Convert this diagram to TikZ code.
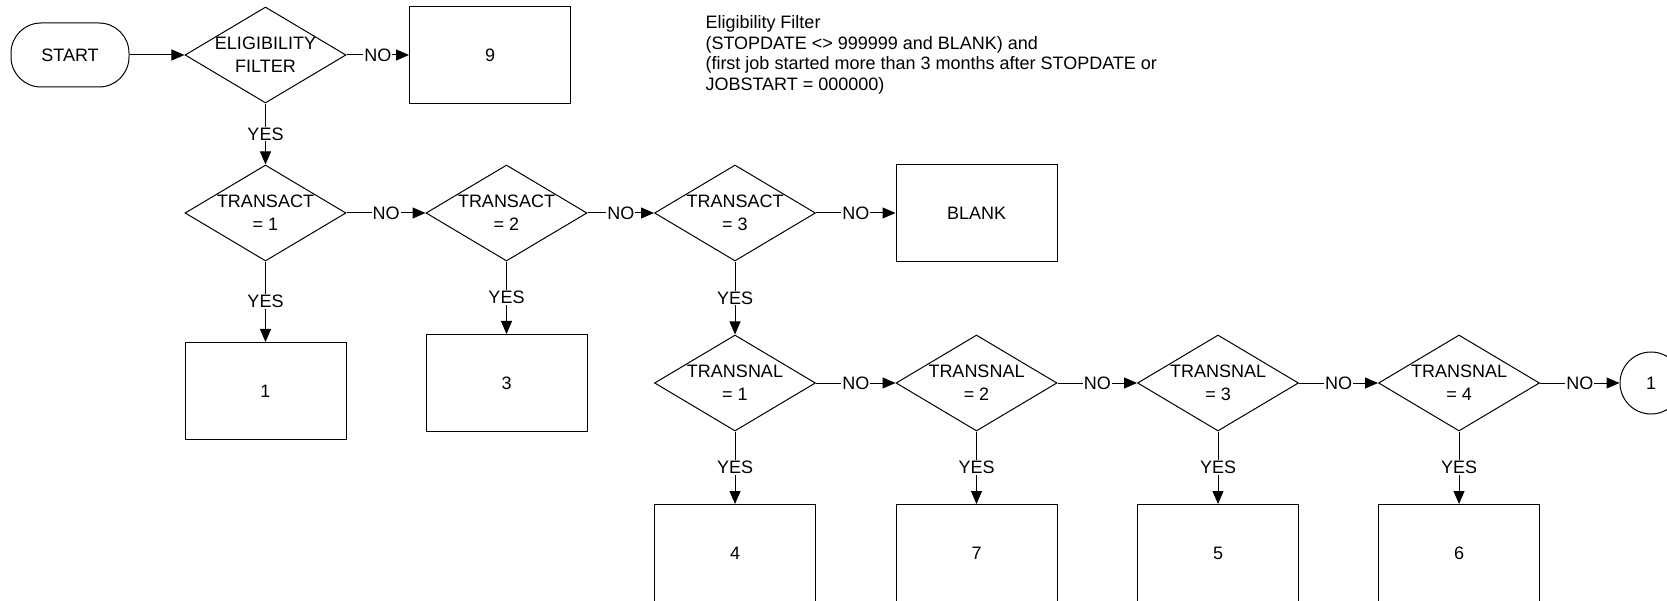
\documentclass[tikz,border=0pt]{standalone}
\usepackage{fontspec}
\setmainfont{Liberation Sans}
\usetikzlibrary{arrows.meta,shapes.geometric}
\tikzset{
  >={Triangle[length=13pt,width=11pt]},
  term/.style={rectangle,draw,rounded corners=30pt,minimum width=118pt,minimum height=64pt},
  dec/.style={diamond,draw,minimum width=161pt,minimum height=96pt,inner sep=0pt},
  dtxt/.style={align=center,inner sep=0pt},
  box/.style={rectangle,draw,minimum width=161pt,minimum height=97pt},
  conn/.style={circle,draw,minimum size=62pt,inner sep=0pt},
  note/.style={anchor=west,align=left,inner sep=0pt,font=\fontsize{18}{20.5}\selectfont},
  wt/.style={midway,fill=white,inner sep=1pt},
  every picture/.style={line width=1pt},
}
\begin{document}
\begin{tikzpicture}[x=1pt,y=-1pt,font=\fontsize{18}{23}\selectfont]
\useasboundingbox (0,0) rectangle (1667,601);
\clip (0,0) rectangle (1667,601);
\node[term] (st) at (70,55){START};
\node[dec,label={[dtxt]center:{ELIGIBILITY\\FILTER}}] (el) at (265.5,55){};
\node[box] (b9) at (490,55){9};
\node[note] (nt) at (705,55){Eligibility Filter\\(STOPDATE <> 999999 and BLANK) and\\(first job started more than 3 months after STOPDATE or\\JOBSTART = 000000)};
% transact row
\node[dec,label={[dtxt]center:{TRANSACT\\= 1}}] (t1) at (265.5,213){};
\node[dec,label={[dtxt]center:{TRANSACT\\= 2}}] (t2) at (506.5,213){};
\node[dec,label={[dtxt]center:{TRANSACT\\= 3}}] (t3) at (735,213){};
\node[box] (bl) at (976.5,213){BLANK};
\node[box] (b1) at (265.5,391){1}; \node[box] (b3) at (506.5,383){3};
% transnal row
\node[dec,label={[dtxt]center:{TRANSNAL\\= 1}}] (n1) at (735,383){};
\node[dec,label={[dtxt]center:{TRANSNAL\\= 2}}] (n2) at (976.5,383){};
\node[dec,label={[dtxt]center:{TRANSNAL\\= 3}}] (n3) at (1218,383){};
\node[dec,label={[dtxt]center:{TRANSNAL\\= 4}}] (n4) at (1459,383){};
\node[conn] (c1) at (1651,383){1};
\node[box] (b4) at (735,553){4}; \node[box] (b7) at (976.5,553){7};
\node[box] (b5) at (1218,553){5}; \node[box] (b6) at (1459,553){6};
% connectors
\draw[->] (st)--(el); \draw[->] (el)--node[wt]{NO}(b9); \draw[->] (el)--node[wt]{YES}(t1);
\draw[->] (t1)--node[wt]{NO}(t2); \draw[->] (t2)--node[wt]{NO}(t3); \draw[->] (t3)--node[wt]{NO}(bl);
\draw[->] (t1)--node[wt]{YES}(b1); \draw[->] (t2)--node[wt]{YES}(b3); \draw[->] (t3)--node[wt]{YES}(n1);
\draw[->] (n1)--node[wt]{NO}(n2); \draw[->] (n2)--node[wt]{NO}(n3); \draw[->] (n3)--node[wt]{NO}(n4);
\draw[->] (n4)--node[wt]{NO}(c1);
\draw[->] (n1)--node[wt]{YES}(b4); \draw[->] (n2)--node[wt]{YES}(b7);
\draw[->] (n3)--node[wt]{YES}(b5); \draw[->] (n4)--node[wt]{YES}(b6);
\end{tikzpicture}
\end{document}
